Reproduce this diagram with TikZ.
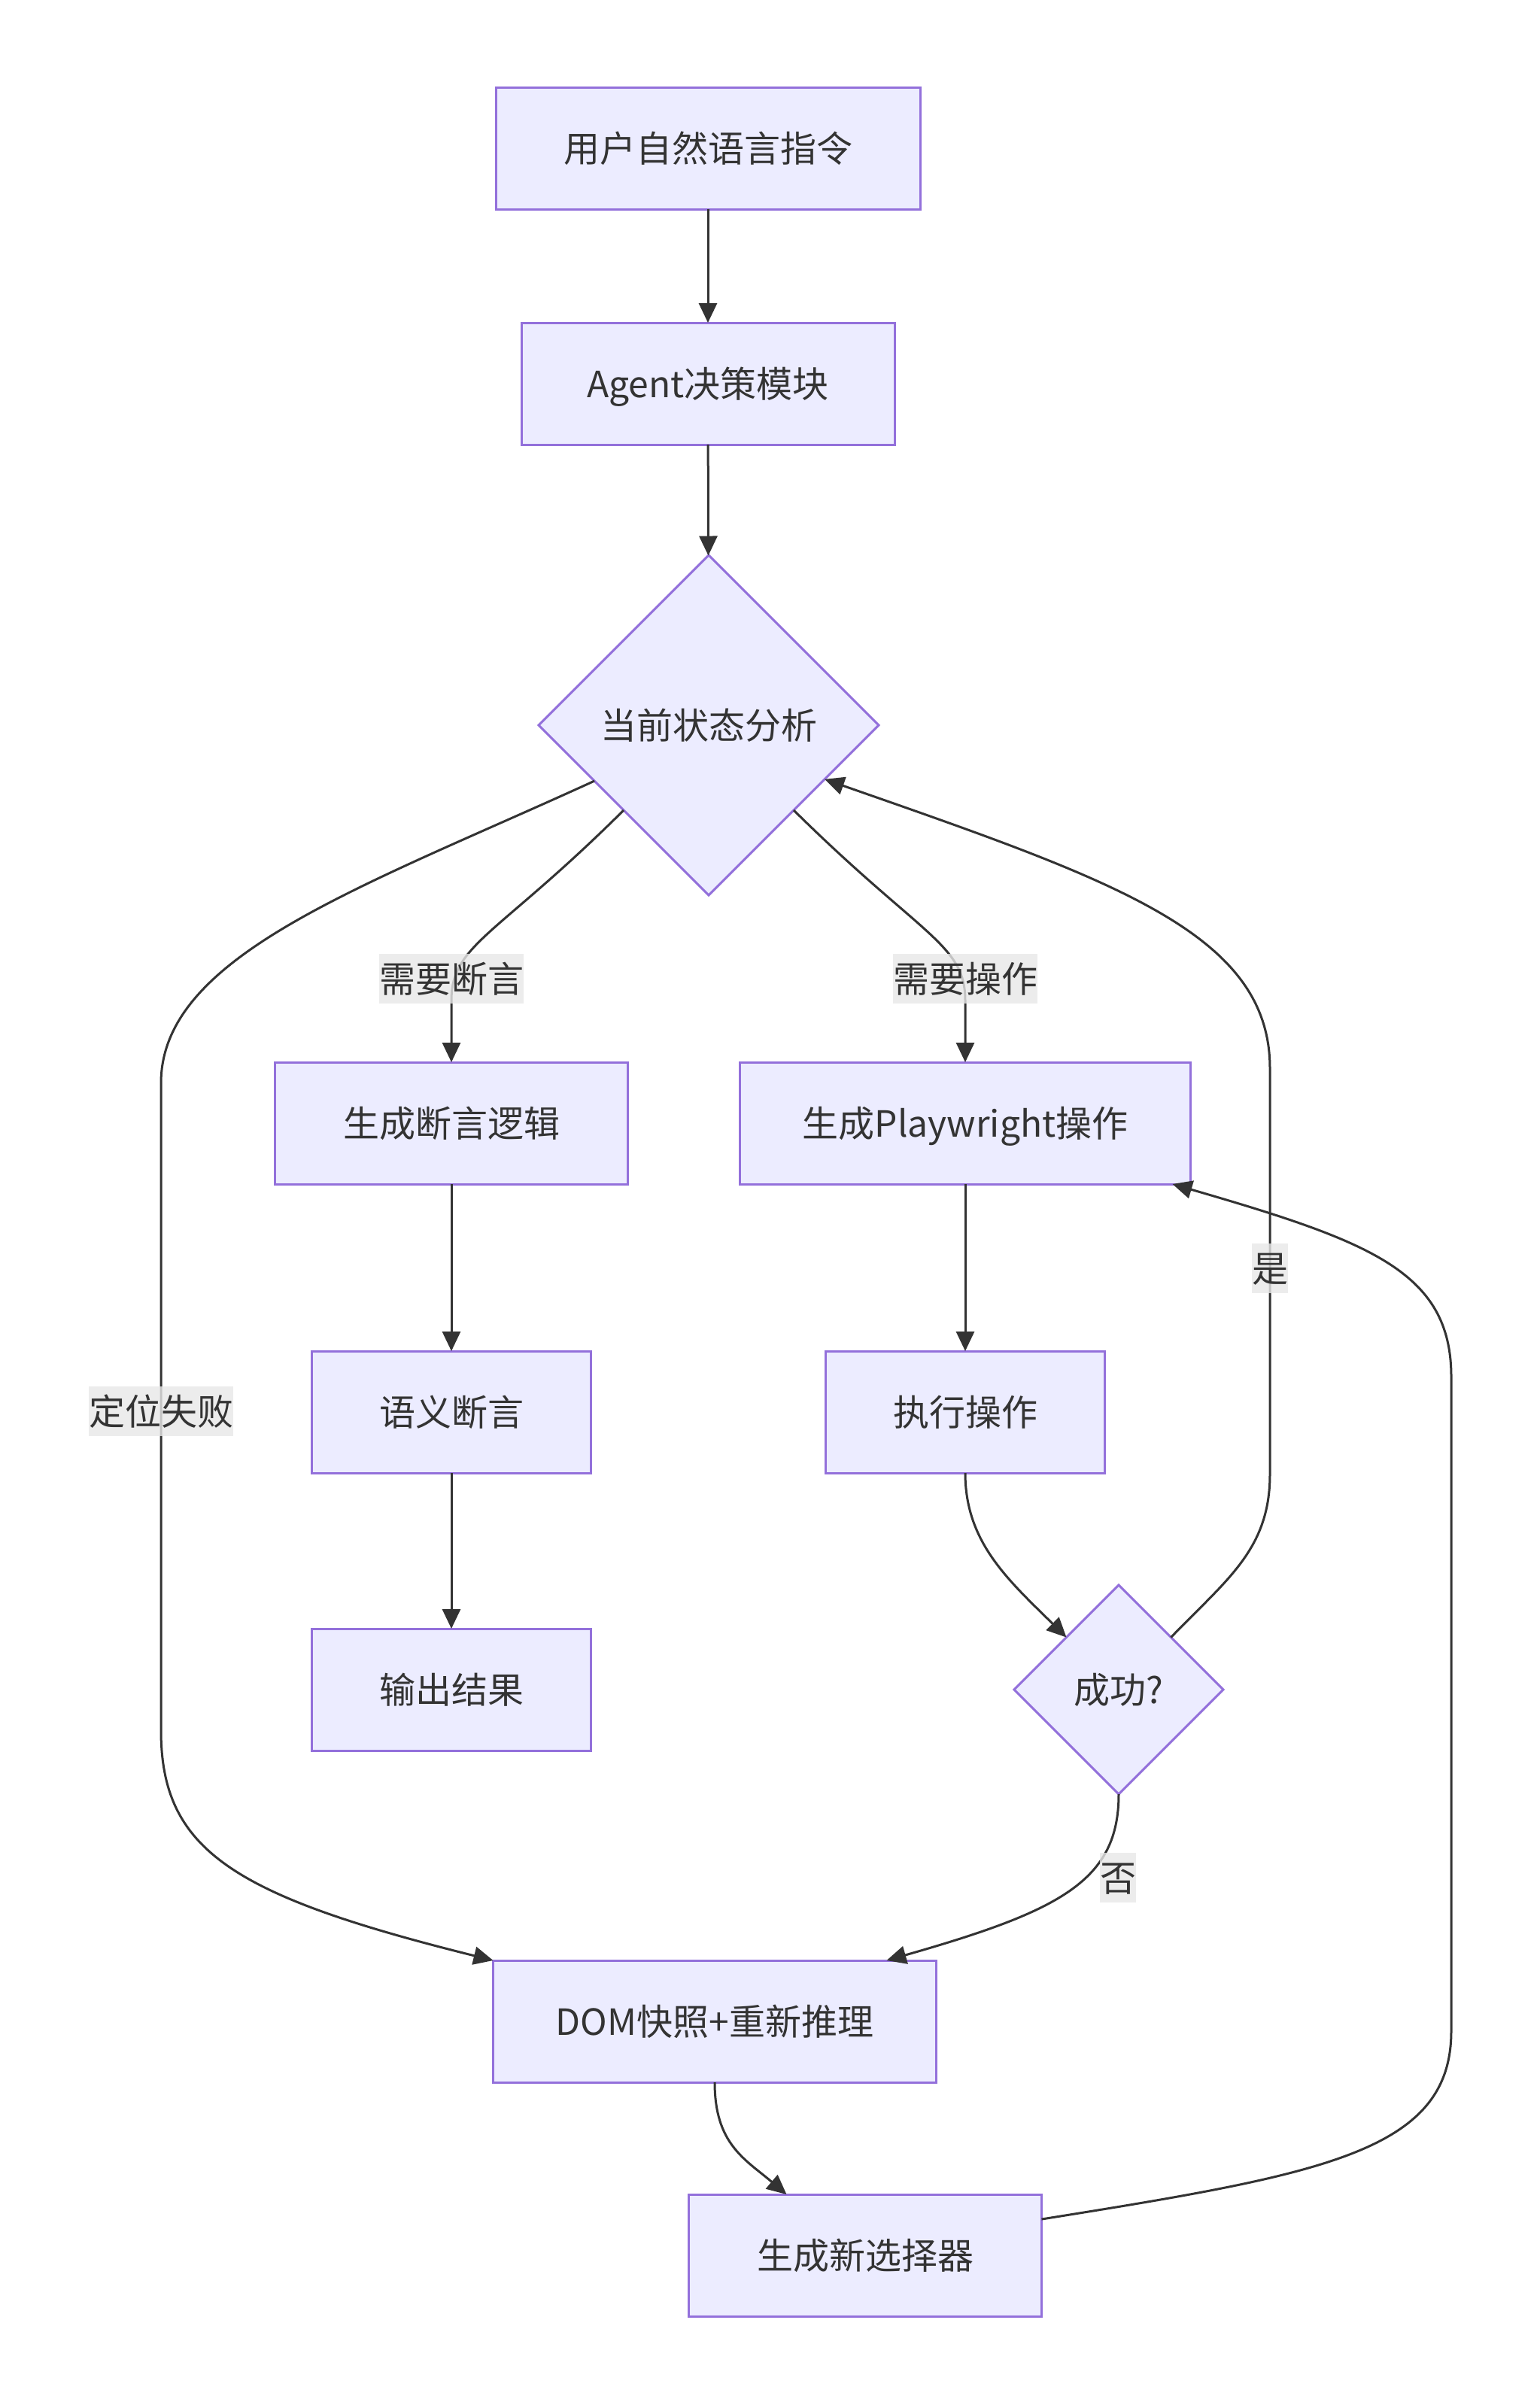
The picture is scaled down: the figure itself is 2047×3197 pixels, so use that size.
\documentclass[tikz,border=0pt]{standalone}
\usepackage{fontspec}
\setmainfont{Noto Sans CJK SC}
\usetikzlibrary{shapes.geometric,arrows.meta,calc}
\definecolor{boxfill}{HTML}{ECECFF}
\definecolor{boxborder}{HTML}{9370DB}
\definecolor{ink}{HTML}{333333}
\definecolor{lblbg}{HTML}{E8E8E8}
\tikzset{
  txt/.style={font=\fontsize{48}{58}\selectfont, text=ink, text height=42pt, text depth=6pt},
  box/.style={txt, draw=boxborder, fill=boxfill, line width=3pt, minimum height=162pt, inner sep=0pt, outer sep=0pt},
  dec/.style={txt, shape=diamond, aspect=1, draw=boxborder, fill=boxfill, line width=3pt, inner sep=0pt, outer sep=0pt},
  edge/.style={draw=ink, line width=3pt, -{Triangle[length=26pt,width=24pt]}},
  lbl/.style={txt, fill=lblbg, fill opacity=0.8, text opacity=1, inner xsep=0pt, inner ysep=9pt}
}
\begin{document}
\begin{tikzpicture}[x=1pt,y=-1pt]
\useasboundingbox (0,0) rectangle (2047,3197);
\fill[white] (0,0) rectangle (2047,3197);

\node[box, minimum width=564pt] (A) at (941,197) {用户自然语言指令};
\node[box, minimum width=496pt] (B) at (941,510) {Agent决策模块};
\node[dec, minimum width=452pt, minimum height=452pt] (C) at (942,964) {当前状态分析};
\node[box, minimum width=469pt] (D) at (600,1493) {生成断言逻辑};
\node[box, minimum width=599pt] (E) at (1283,1493) {生成Playwright操作};
\node[box, minimum width=371pt] (F) at (600,1877) {语义断言};
\node[box, minimum width=371pt] (G) at (1283,1877) {执行操作};
\node[box, minimum width=371pt] (H) at (600,2246) {输出结果};
\node[dec, minimum width=278pt, minimum height=278pt] (I) at (1487,2246) {成功?};
\node[box, minimum width=589pt] (J) at (950,2687) {DOM快照+重新推理};
\node[box, minimum width=469pt] (K) at (1150,2998) {生成新选择器};

\draw[edge] (A) -- (B);
\draw[edge] (B) -- (C);
\draw[edge] (C.south west) .. controls (660,1245) and (600,1255) .. (600,1330) -- (D.north);
\draw[edge] (C.south east) .. controls (1225,1245) and (1283,1255) .. (1283,1330) -- (E.north);
\draw[edge] (C.206) .. controls (480,1180) and (214,1270) .. (214,1440) -- (214,2300) .. controls (214,2460) and (310,2520) .. (J.north west);
\draw[edge] (D) -- (F);
\draw[edge] (F) -- (H);
\draw[edge] (E) -- (G);
\draw[edge] (G.south) .. controls (1283,2050) and (1340,2100) .. (I.north west);
\draw[edge] (I.north east) .. controls (1630,2100) and (1688,2060) .. (1688,1960) -- (1688,1420) .. controls (1688,1240) and (1480,1170) .. (C.-25);
\draw[edge] (I.south) .. controls (1487,2500) and (1410,2540) .. ([xshift=-66pt]J.north east);
\draw[edge] (J.south) .. controls (950,2850) and (990,2870) .. ([xshift=130pt]K.north west);
\draw[edge] ([yshift=48pt]K.east) .. controls (1760,2890) and (1929,2860) .. (1929,2700) -- (1929,1830) .. controls (1929,1690) and (1820,1650) .. ([xshift=-24pt]E.south east);

\node[lbl] (l1) at (600,1301) {需要断言};
\node[lbl] (l2) at (1283,1301) {需要操作};
\node[lbl] (l3) at (214,1876) {定位失败};
\node[lbl] (l4) at (1688,1686) {是};
\node[lbl] (l5) at (1486,2496) {否};
\end{tikzpicture}
\end{document}
